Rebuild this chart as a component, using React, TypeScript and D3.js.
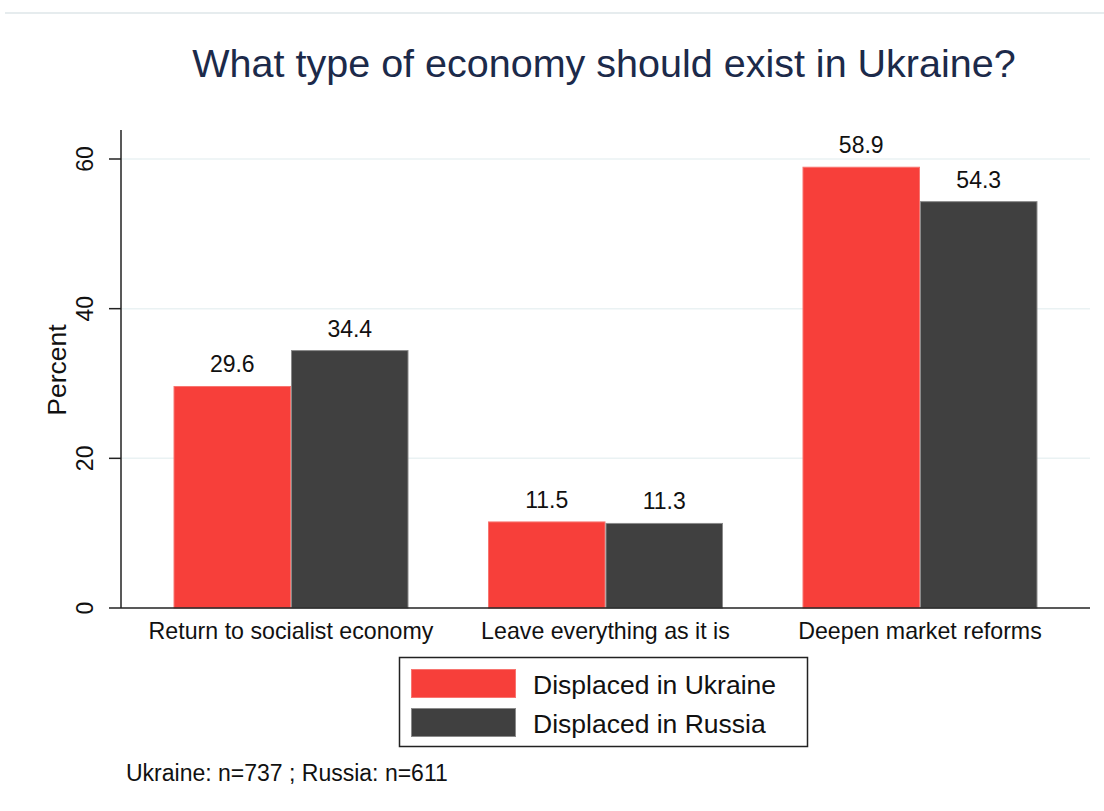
import React from "react";
import * as d3 from "d3";

const categories = ["Return to socialist economy", "Leave everything as it is", "Deepen market reforms"];
const seriesNames = ["Displaced in Ukraine", "Displaced in Russia"];
const ukraineValues = [29.6, 11.5, 58.9];
const russiaValues = [34.4, 11.3, 54.3];
const yTicks = [0, 20, 40, 60];
const title = "What type of economy should exist in Ukraine?";
const yLabel = "Percent";
const note = "Ukraine: n=737 ; Russia: n=611";

const COLORS = ["#f73f3a", "#404040"];
const STROKES = ["#f87570", "#8a8a8a"];
const FONT = "'Liberation Sans', Arial, sans-serif";

export default function App() {
  const W = 1104, H = 811;
  const left = 121, right = 1090, top = 130, bottom = 608;
  const y = d3.scaleLinear().domain([0, 60]).range([bottom, 159]);
  const x0 = d3.scaleBand<string>().domain(categories).range([left, right]).paddingInner(0.2528).paddingOuter(0.167);
  const x1 = d3.scaleBand<number>().domain([0, 1]).range([0, x0.bandwidth()]);
  const series = [ukraineValues, russiaValues];

  return (
    <div style={{ position: "absolute", left: 0, top: 0 }}>
      <svg width={W} height={H} style={{ display: "block", fontFamily: FONT }}>
        <rect x={0} y={0} width={W} height={H} fill="#fff" />
        <line x1={5} x2={W} y1={13} y2={13} stroke="#e6ecee" strokeWidth={2} />
        <text x={604} y={77} textAnchor="middle" fontSize={39.5} fill="#1c2a4a">{title}</text>

        {yTicks.filter(t => t > 0).map(t => (
          <line key={"g" + t} x1={left} x2={right} y1={y(t)} y2={y(t)} stroke="#eaf2f3" strokeWidth={1.5} />
        ))}

        {categories.map((c, i) => (
          <g key={c}>
            {series.map((vals, s) => (
              <rect key={s}
                x={(x0(c) as number) + (x1(s) as number) + 0.5}
                y={y(vals[i])}
                width={x1.bandwidth() - 1}
                height={y(0) - y(vals[i])}
                fill={COLORS[s]} stroke={STROKES[s]} strokeWidth={1} />
            ))}
            {series.map((vals, s) => (
              <text key={"l" + s}
                x={(x0(c) as number) + (x1(s) as number) + x1.bandwidth() / 2}
                y={y(vals[i]) - 14}
                textAnchor="middle" fontSize={23} fill="#111">{vals[i].toFixed(1)}</text>
            ))}
            <text x={(x0(c) as number) + x0.bandwidth() / 2} y={639} textAnchor="middle" fontSize={23.2} fill="#111">{c}</text>
          </g>
        ))}

        <line x1={left} x2={left} y1={top} y2={bottom} stroke="#222" strokeWidth={1.5} />
        <line x1={left} x2={right} y1={bottom} y2={bottom} stroke="#222" strokeWidth={1.5} />
        {yTicks.map(t => (
          <g key={t}>
            <line x1={109} x2={left} y1={y(t)} y2={y(t)} stroke="#222" strokeWidth={1.5} />
            <text transform={`translate(93,${y(t)}) rotate(-90)`} textAnchor="middle" fontSize={23} fill="#111">{t}</text>
          </g>
        ))}
        <text transform={`translate(66,370) rotate(-90)`} textAnchor="middle" fontSize={26.5} fill="#111">{yLabel}</text>

        <rect x={399.5} y={657.5} width={408} height={89} fill="#fff" stroke="#222" strokeWidth={1.5} />
        {seriesNames.map((n, s) => (
          <g key={n}>
            <rect x={411.5} y={669.5 + s * 39} width={104} height={28} fill={COLORS[s]} stroke={STROKES[s]} strokeWidth={1} />
            <text x={533} y={694 + s * 39} fontSize={26.5} fill="#111">{n}</text>
          </g>
        ))}

        <text x={126} y={781} fontSize={23} fill="#111">{note}</text>
      </svg>
    </div>
  );
}
